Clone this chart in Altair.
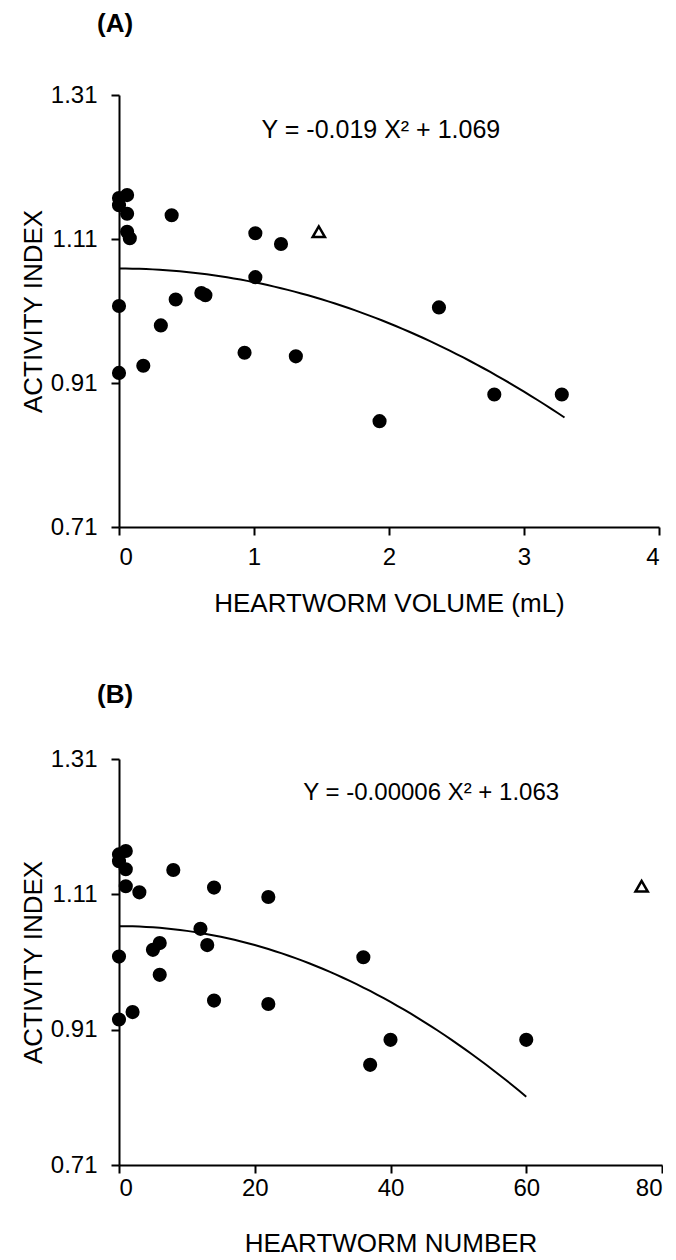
import altair as alt
import pandas as pd

# ---------------- Panel A data ----------------
a_volume = [0.06, 0.0, 0.0, 0.06, 0.39, 0.06, 0.08, 1.01, 1.2, 1.01, 0.61, 0.64,
            0.42, 0.0, 0.31, 0.93, 1.31, 0.0, 0.18, 1.93, 2.37, 2.78, 3.28]
a_activity = [1.171, 1.167, 1.157, 1.145, 1.143, 1.120, 1.111, 1.118, 1.103, 1.057, 1.035, 1.032,
              1.026, 1.017, 0.990, 0.952, 0.947, 0.924, 0.934, 0.857, 1.015, 0.894, 0.894]
a_outlier_volume = [1.48]
a_outlier_activity = [1.120]
a_coef, a_intercept, a_xmax = -0.019, 1.069, 3.28
a_eq_text = ["Y = -0.019 X\u00b2 + 1.069"]
a_eq_x, a_eq_y = [1.94], [1.261]

# ---------------- Panel B data ----------------
b_number = [1, 0, 0, 1, 8, 1, 3, 14, 22, 12, 6, 5, 13, 0, 36, 6, 14, 22, 2, 0, 37, 40, 60]
b_activity = [1.174, 1.169, 1.159, 1.147, 1.146, 1.122, 1.113, 1.120, 1.106, 1.059, 1.038, 1.028,
              1.035, 1.018, 1.017, 0.991, 0.953, 0.948, 0.936, 0.925, 0.858, 0.895, 0.895]
b_outlier_number = [77]
b_outlier_activity = [1.122]
b_coef, b_intercept, b_xmax = -0.00007, 1.063, 60
b_eq_text = ["Y = -0.00006 X\u00b2 + 1.063"]
b_eq_x, b_eq_y = [46.0], [1.26]

y_ticks = [0.71, 0.91, 1.11, 1.31]
FONT = "Liberation Sans"


def panel(xs, ys, ox, oy, coef, intercept, xmax, step, eq_text, eq_x, eq_y, eq_size,
          xtitle, xdomain, xticks, label, width, height, title_offset,
          x_label_pad, x_title_pad):
    pts = pd.DataFrame({"x": xs, "y": ys})
    out = pd.DataFrame({"x": ox, "y": oy})
    eq = pd.DataFrame({"x": eq_x, "y": eq_y, "t": eq_text})

    xscale = alt.Scale(domain=xdomain, nice=False, zero=False)
    yscale = alt.Scale(domain=[0.71, 1.31], nice=False, zero=False)
    xaxis = alt.Axis(values=xticks, format="d", title=xtitle,
                     labelPadding=x_label_pad, titlePadding=x_title_pad)
    yaxis = alt.Axis(values=y_ticks, format=".2f", title="ACTIVITY INDEX")

    base_pts = alt.Chart(pts).mark_circle(color="black", opacity=1, size=200).encode(
        x=alt.X("x:Q", scale=xscale, axis=xaxis),
        y=alt.Y("y:Q", scale=yscale, axis=yaxis),
    )
    out_pts = alt.Chart(out).mark_point(shape="triangle-up", filled=False, color="black",
                                        strokeWidth=2.5, size=150, opacity=1).encode(
        x=alt.X("x:Q", scale=xscale),
        y=alt.Y("y:Q", scale=yscale),
    )
    curve = alt.Chart(alt.sequence(0, xmax + step / 2, step, as_="x")).transform_calculate(
        y=f"{coef} * datum.x * datum.x + {intercept}"
    ).mark_line(color="black", strokeWidth=2).encode(
        x=alt.X("x:Q", scale=xscale),
        y=alt.Y("y:Q", scale=yscale),
    )
    eqm = alt.Chart(eq).mark_text(font=FONT, fontSize=eq_size, color="black", align="center",
                                  baseline="middle").encode(
        x=alt.X("x:Q", scale=xscale),
        y=alt.Y("y:Q", scale=yscale),
        text="t:N",
    )
    return alt.layer(curve, base_pts, out_pts, eqm).properties(
        width=width, height=height,
        title=alt.TitleParams(label, anchor="start", frame="group", fontSize=26,
                              fontWeight="bold", font=FONT, color="black", dx=-22,
                              offset=title_offset),
    )


chart_a = panel(a_volume, a_activity, a_outlier_volume, a_outlier_activity,
                a_coef, a_intercept, a_xmax, 0.05, a_eq_text, a_eq_x, a_eq_y, 25,
                "HEARTWORM VOLUME (mL)", [0, 4], [0, 1, 2, 3, 4], "(A)", 540, 432,
                46, 10, 21)
chart_b = panel(b_number, b_activity, b_outlier_number, b_outlier_activity,
                b_coef, b_intercept, b_xmax, 1, b_eq_text, b_eq_x, b_eq_y, 24,
                "HEARTWORM NUMBER", [0, 80], [0, 20, 40, 60, 80], "(B)", 543, 406,
                39, 3, 30)

chart = alt.vconcat(chart_a, chart_b, spacing=66).properties(
    padding={"left": 12, "top": 3, "right": 0, "bottom": 0}
).configure_view(stroke=None).configure_axis(
    grid=False, domainColor="black", domainWidth=2, tickColor="black", tickWidth=2,
    tickSize=8, labelColor="black", titleColor="black", labelFont=FONT, titleFont=FONT,
    labelFontSize=24, titleFontSize=26, titleFontWeight="normal",
).configure_axisY(titlePadding=4, labelPadding=14)

chart.save("out.html", embed_options={"renderer": "svg", "actions": False})
